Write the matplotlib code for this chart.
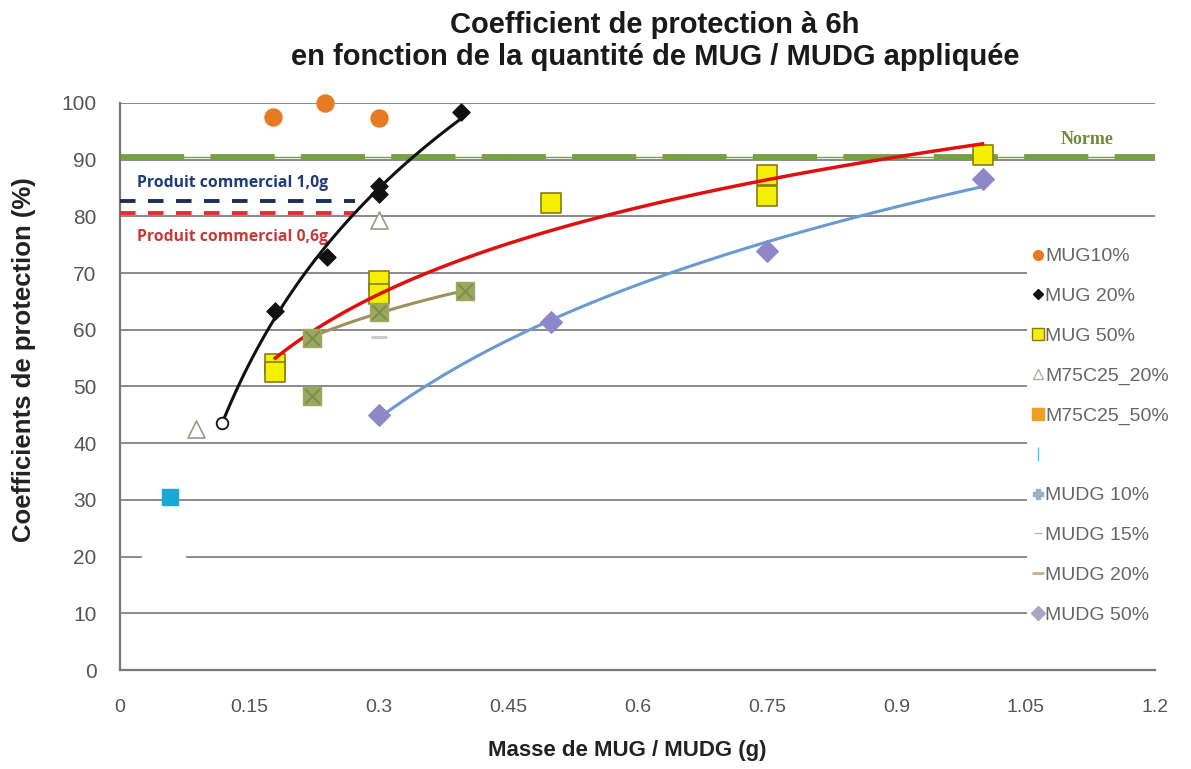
import numpy as np
import matplotlib
matplotlib.use("Agg")
import matplotlib.pyplot as plt

plt.rcParams['font.family'] = ['Liberation Sans', 'DejaVu Sans']

# data
mug10_x = [0.177, 0.238, 0.3]
mug10_y = [97.5, 100.0, 97.3]

mug20_x = [0.118, 0.18, 0.24, 0.3, 0.3, 0.395]
mug20_y = [43.6, 63.4, 72.8, 84.0, 85.4, 98.4]

mug50_x = [0.18, 0.18, 0.3, 0.3, 0.5, 0.75, 0.75, 1.0]
mug50_y = [54.0, 52.6, 68.6, 66.4, 82.4, 87.3, 83.6, 90.8]

m75c25_20_x = [0.088, 0.3]
m75c25_20_y = [42.5, 79.3]

m75c25_50_x = [0.222, 0.222, 0.3, 0.4]
m75c25_50_y = [48.3, 58.6, 63.2, 66.8]

cyan_x = [0.058]
cyan_y = [30.6]

mudg15_x = [0.3]
mudg15_y = [58.8]

mudg50_x = [0.3, 0.5, 0.75, 1.0]
mudg50_y = [45.0, 61.4, 73.9, 86.6]

norme = 90.5
commercial_10 = 82.7
commercial_06 = 80.6

legend_labels = ["MUG10%", "MUG 20%", "MUG 50%", "M75C25_20%", "M75C25_50%", "",
                 "MUDG 10%", "MUDG 15%", "MUDG 20%", "MUDG 50%"]


def log_trend(xs, ys, x0, x1):
    b, a = np.polyfit(np.log(xs), ys, 1)
    xx = np.linspace(x0, x1, 100)
    return xx, a + b * np.log(xx)


fig = plt.figure(figsize=(11.91, 7.69), dpi=100)
ax = fig.add_axes([0.1008, 0.1287, 0.8690, 0.7374])
ax.set_xlim(0, 1.2)
ax.set_ylim(0, 100)
ax.set_xticks(np.arange(0, 1.21, 0.15))
ax.set_xticklabels(["0", "0.15", "0.3", "0.45", "0.6", "0.75", "0.9", "1.05", "1.2"])
ax.set_yticks(np.arange(0, 101, 10))
ax.tick_params(axis='both', length=0, colors='#555555')
ax.tick_params(axis='x', pad=21, labelsize=14)
ax.tick_params(axis='y', pad=17, labelsize=15)
ax.grid(axis='y', color='#8a8a8a', lw=1.4)
ax.set_axisbelow(True)
for s in ['top', 'right']:
    ax.spines[s].set_visible(False)
for s in ['left', 'bottom']:
    ax.spines[s].set_color('#777777')
    ax.spines[s].set_linewidth(1.6)

# norme line
ax.axhline(norme, color='#77a040', lw=4.2, dashes=(11, 4.5), zorder=2)
ax.axhline(norme, color='#77a040', lw=1, zorder=2)
ax.text(1.121, 92.0, "Norme", family=['Liberation Serif', 'DejaVu Serif'],
        fontweight='bold', fontsize=13, color='#6f8a40', ha='center', va='bottom')

# commercial products
ax.plot([0, 0.272], [commercial_10] * 2, color='#1f2d5a', lw=2.8, dashes=(4, 3.2), zorder=3)
ax.plot([0, 0.272], [commercial_06] * 2, color='#e03030', lw=2.8, dashes=(4, 3.2), zorder=3)
box = dict(facecolor='white', edgecolor='none', pad=5)
ax.text(0.02, 85.9, "Produit commercial 1,0g", color='#1f3c7a', fontweight='bold',
        fontsize=11.3, family=['Open Sans', 'DejaVu Sans'], va='center', bbox=box, zorder=4)
ax.text(0.02, 76.4, "Produit commercial 0,6g", color='#c83a3a', fontweight='bold',
        fontsize=11.3, family=['Open Sans', 'DejaVu Sans'], va='center', bbox=box, zorder=4)

# white patch over grid near y=20
ax.add_patch(plt.Rectangle((0.025, 19.2), 0.05, 1.6, color='white', zorder=2))

# trend lines
xx, yy = log_trend(mug20_x, mug20_y, 0.118, 0.395)
ax.plot(xx, yy, color='#111111', lw=2.2, zorder=5)
xx, yy = log_trend(mug50_x, mug50_y, 0.18, 1.0)
ax.plot(xx, yy, color='#e01010', lw=2.5, zorder=5)
xx, yy = log_trend(m75c25_50_x[1:], m75c25_50_y[1:], 0.225, 0.4)
ax.plot(xx, yy, color='#a09060', lw=2.2, zorder=4)
xx, yy = log_trend(mudg50_x, mudg50_y, 0.3, 1.0)
ax.plot(xx, yy, color='#6a9ad0', lw=2.2, zorder=4)

# markers
ax.scatter(mug10_x, mug10_y, s=150, color='#e87a22', zorder=6, clip_on=False)
ax.scatter(mug20_x[1:], mug20_y[1:], s=75, marker='D', color='#111111', zorder=6, clip_on=False)
ax.scatter(mug20_x[:1], mug20_y[:1], s=70, marker='o', facecolor='white',
           edgecolor='#111111', lw=1.3, zorder=6)
ax.scatter(mug50_x, mug50_y, s=190, marker='s', facecolor='#f5f000',
           edgecolor='#8a7a10', lw=1.2, zorder=4)
ax.scatter(m75c25_20_x, m75c25_20_y, s=150, marker='^', facecolor='white',
           edgecolor='#9a9a8a', lw=1.2, zorder=6)
ax.scatter(m75c25_50_x, m75c25_50_y, s=160, marker='s', color='#9aa860', zorder=5)
ax.scatter(m75c25_50_x, m75c25_50_y, s=110, marker='x', color='#7f8f4a', lw=1.5, zorder=5)
ax.scatter(cyan_x, cyan_y, s=140, marker='s', color='#18a8d8', zorder=6)
ax.scatter(mudg15_x, mudg15_y, s=120, marker='_', color='#c8c8c8', lw=2, zorder=4)
ax.scatter(mudg50_x, mudg50_y, s=120, marker='D', color='#8e88c8', zorder=6)

# legend
handles = [
    plt.Line2D([], [], ls='none', marker='o', ms=7, color='#e87a22'),
    plt.Line2D([], [], ls='none', marker='D', ms=5, color='#111111'),
    plt.Line2D([], [], ls='none', marker='s', ms=9, mfc='#f5f000', mec='#8a7a10'),
    plt.Line2D([], [], ls='none', marker='^', ms=7, mfc='white', mec='#b0b0a0'),
    plt.Line2D([], [], ls='none', marker='s', ms=8, color='#f0a020'),
    plt.Line2D([], [], ls='none', marker='|', ms=10, color='#40c8f0'),
    plt.Line2D([], [], ls='none', marker='P', ms=7, color='#9ab0c8'),
    plt.Line2D([], [], ls='none', marker='_', ms=6, color='#b8b8b8'),
    plt.Line2D([], [], ls='none', marker='_', ms=9, mew=2, color='#c0b090'),
    plt.Line2D([], [], ls='none', marker='D', ms=7, color='#a8a8c0'),
]
leg = ax.legend(handles, legend_labels, loc='upper left', bbox_to_anchor=(0.876, 0.755),
                frameon=True, fancybox=False, framealpha=1, edgecolor='none',
                facecolor='white', handlelength=0.6, handletextpad=0.05,
                labelspacing=1.14, borderpad=0.3, borderaxespad=0,
                prop={'size': 14})
for t in leg.get_texts():
    t.set_color('#666666')

ax.set_xlabel("Masse de MUG / MUDG (g)", fontsize=16, fontweight='bold',
              color='#222222')
ax.xaxis.set_label_coords(0.49, -0.124)
ax.set_ylabel("Coefficients de protection (%)", fontsize=18.5, fontweight='bold',
              color='#222222')
ax.yaxis.set_label_coords(-0.081, 0.547)
fig.text(0.55, 0.986, "Coefficient de protection à 6h\nen fonction de la quantité de MUG / MUDG appliquée",
         ha='center', va='top', fontsize=21, fontweight='bold',
         color='#1a1a1a', linespacing=1.2)

fig.savefig("out.png", dpi=100)
